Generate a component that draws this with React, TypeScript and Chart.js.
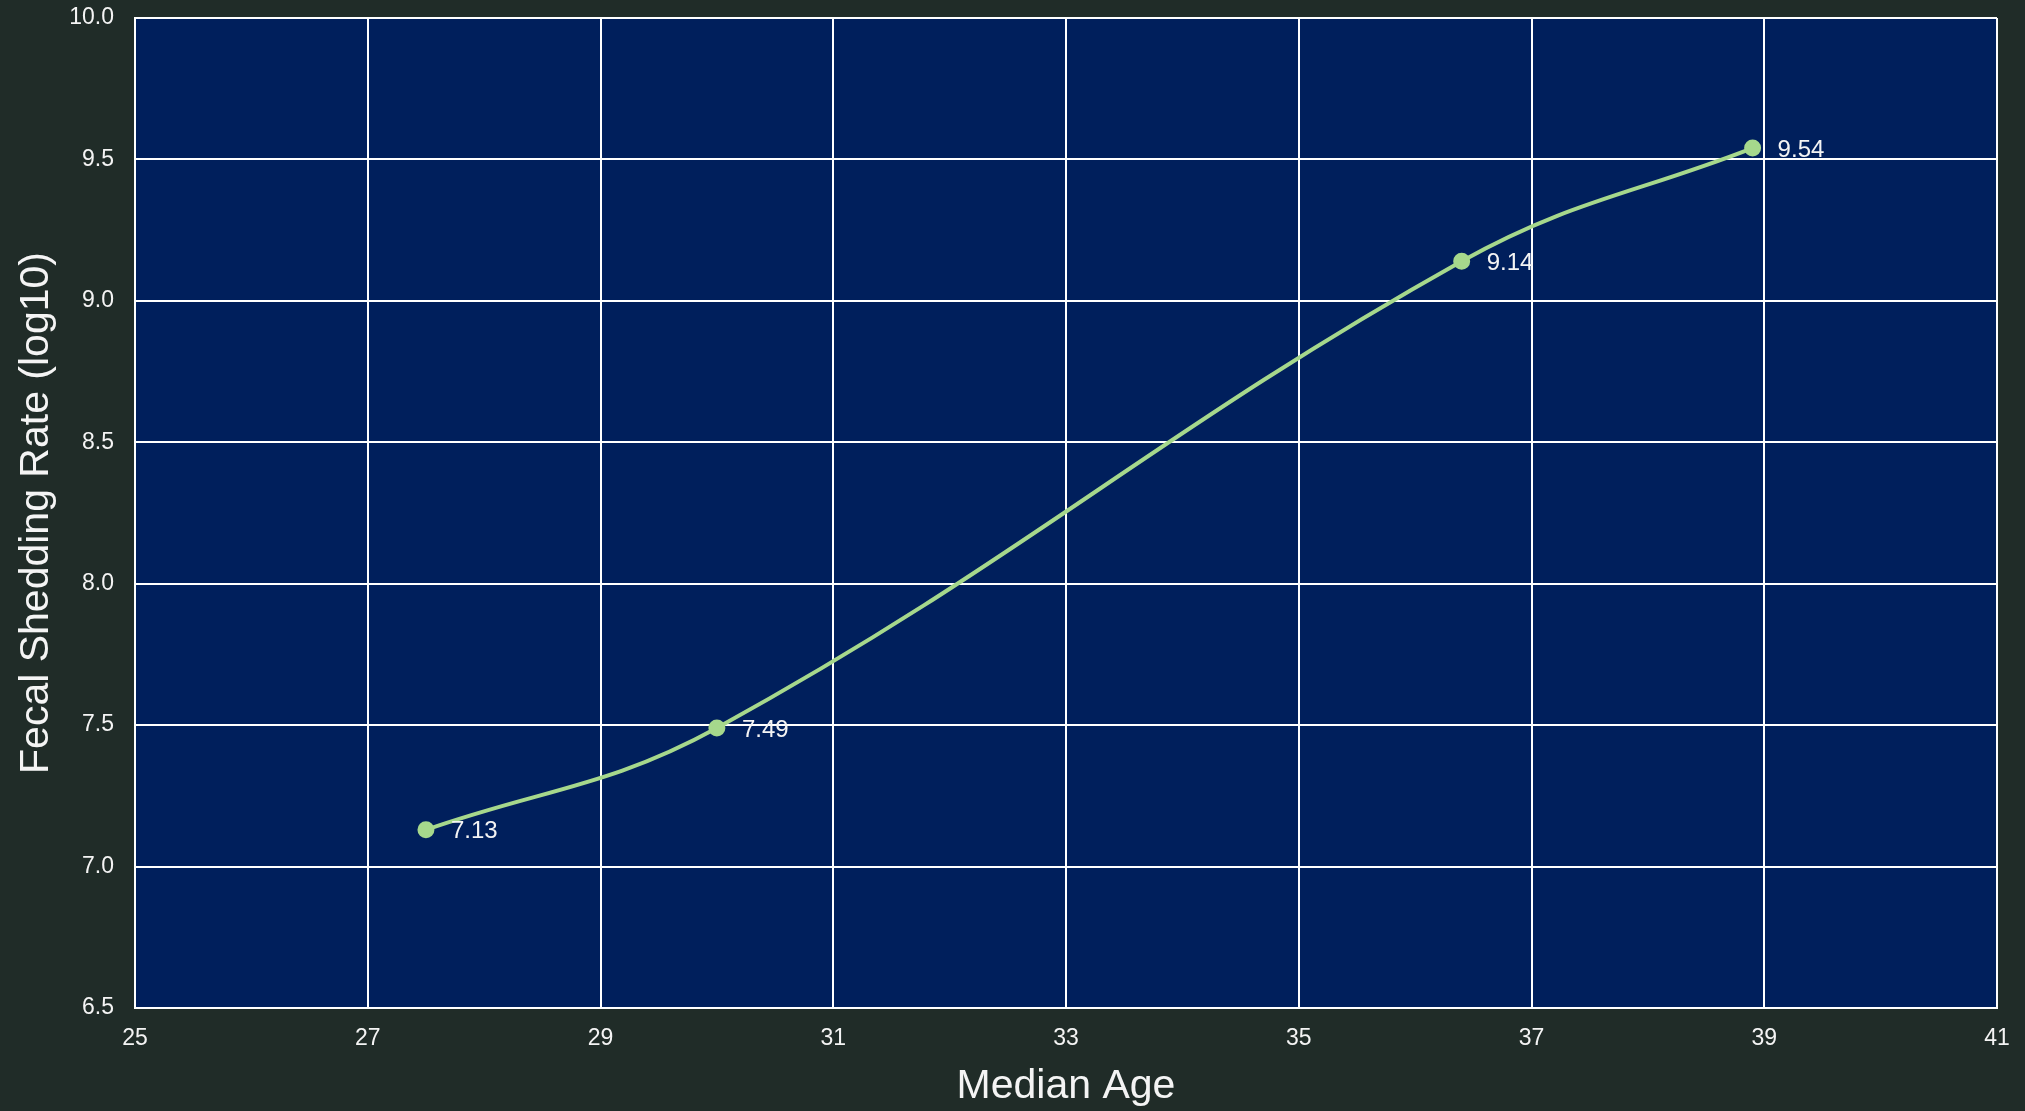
import React, { useEffect, useRef } from "react";
import { Chart, registerables } from "chart.js";

Chart.register(...registerables);

const medianAge = [27.5, 30.0, 36.4, 38.9];
const sheddingRate = [7.13, 7.49, 9.14, 9.54];
const xTicks = [25, 27, 29, 31, 33, 35, 37, 39, 41];
const yTicks = [6.5, 7.0, 7.5, 8.0, 8.5, 9.0, 9.5, 10.0];

const PAGE_BG = "#202c28";
const PLOT_BG = "#001f5c";
const LINE = "#a6d88c";
const TEXT = "#f4f4f4";
const FONT = "'Liberation Sans', Arial, sans-serif";

const plotBackground = {
  id: "plotBackground",
  beforeDraw(chart: any) {
    const { ctx, chartArea } = chart;
    ctx.save();
    ctx.fillStyle = PAGE_BG;
    ctx.fillRect(0, 0, chart.width, chart.height);
    ctx.fillStyle = PLOT_BG;
    ctx.fillRect(chartArea.left, chartArea.top, chartArea.right - chartArea.left, chartArea.bottom - chartArea.top);
    ctx.restore();
  },
};

const valueLabels = {
  id: "valueLabels",
  afterDatasetsDraw(chart: any) {
    const { ctx } = chart;
    const meta = chart.getDatasetMeta(0);
    ctx.save();
    ctx.font = `24px ${FONT}`;
    ctx.fillStyle = TEXT;
    ctx.textAlign = "left";
    ctx.textBaseline = "middle";
    meta.data.forEach((pt: any, i: number) => {
      ctx.fillText(sheddingRate[i].toFixed(2), pt.x + 25, pt.y + 2);
    });
    ctx.restore();
  },
};

export default function App() {
  const canvasRef = useRef<HTMLCanvasElement | null>(null);

  useEffect(() => {
    if (!canvasRef.current) return;
    const chart = new Chart(canvasRef.current, {
      type: "scatter",
      data: {
        datasets: [
          {
            data: medianAge.map((x, i) => ({ x, y: sheddingRate[i] })),
            showLine: true,
            borderColor: LINE,
            backgroundColor: LINE,
            borderWidth: 4,
            pointRadius: 6.5,
            pointHoverRadius: 6.5,
            tension: 0.4,
          },
        ],
      },
      options: {
        animation: false,
        responsive: false,
        maintainAspectRatio: false,
        layout: { padding: { top: 18, right: 28, bottom: 0, left: 8 } },
        plugins: {
          legend: { display: false },
          tooltip: { enabled: false },
        },
        scales: {
          x: {
            type: "linear",
            min: 25,
            max: 41,
            afterBuildTicks: (scale: any) => {
              scale.ticks = xTicks.map((v) => ({ value: v }));
            },
            afterFit: (scale: any) => {
              scale.height = 103;
              scale.paddingLeft = 0;
              scale.paddingRight = 0;
            },
            grid: { color: "#ffffff", lineWidth: 2, drawTicks: false },
            border: { color: "#ffffff", width: 2 },
            ticks: {
              color: TEXT,
              font: { family: FONT, size: 23 },
              padding: 17,
              maxRotation: 0,
            },
            title: {
              display: true,
              text: "Median Age",
              color: TEXT,
              font: { family: FONT, size: 41 },
              padding: { top: 0, bottom: 0 },
            },
          },
          y: {
            type: "linear",
            min: 6.5,
            max: 10.0,
            afterBuildTicks: (scale: any) => {
              scale.ticks = yTicks.map((v) => ({ value: v }));
            },
            afterFit: (scale: any) => {
              scale.width = 127;
              scale.paddingTop = 0;
              scale.paddingBottom = 0;
            },
            grid: { color: "#ffffff", lineWidth: 2, drawTicks: false },
            border: { color: "#ffffff", width: 2 },
            ticks: {
              color: TEXT,
              font: { family: FONT, size: 23 },
              padding: 21,
              callback: (v: any) => Number(v).toFixed(1),
            },
            title: {
              display: true,
              text: "Fecal Shedding Rate (log10)",
              color: TEXT,
              font: { family: FONT, size: 41 },
              padding: { top: 4, bottom: 4 },
            },
          },
        },
      },
      plugins: [plotBackground, valueLabels],
    });
    return () => chart.destroy();
  }, []);

  return (
    <div style={{ position: "fixed", left: 0, top: 0, width: 2025, height: 1111, background: PAGE_BG }}>
      <canvas ref={canvasRef} width={2025} height={1111} style={{ display: "block" }} />
    </div>
  );
}
